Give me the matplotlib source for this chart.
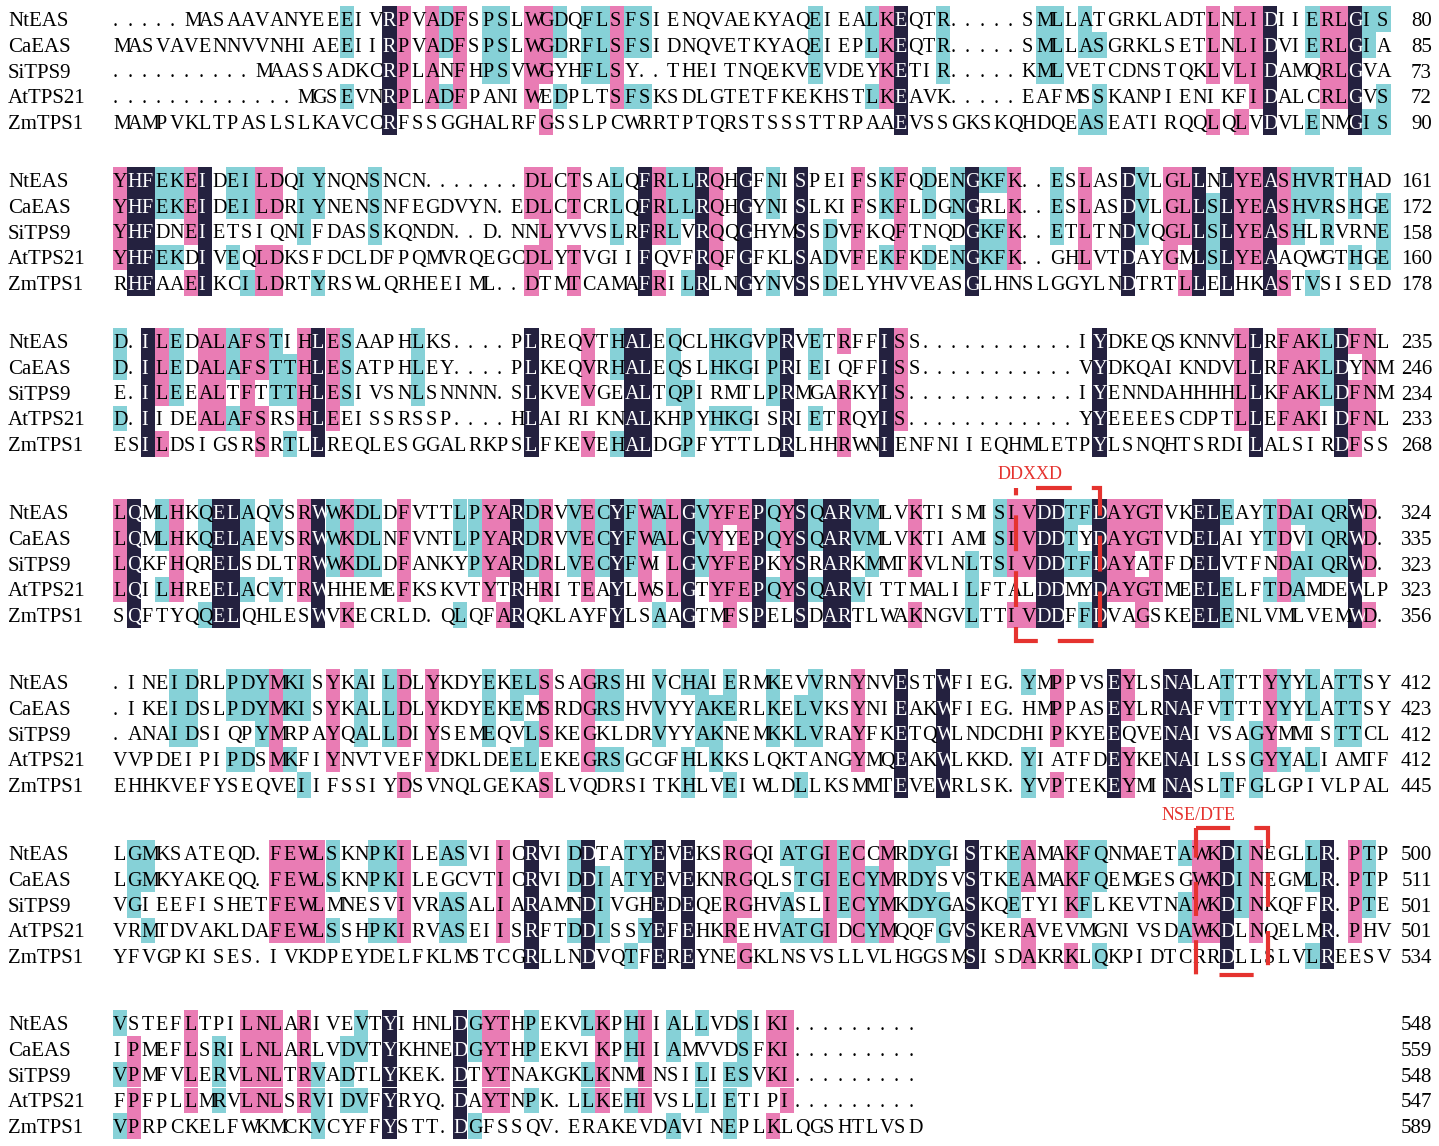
import matplotlib
matplotlib.use("Agg")
import matplotlib.pyplot as plt
from matplotlib.patches import Rectangle
from collections import Counter

OUTFILE = "out.png"

NAMES = ["NtEAS", "CaEAS", "SiTPS9", "AtTPS21", "ZmTPS1"]

# alignment blocks, 90 columns each (last one 57), '.' = gap
NtEAS = [
    "." * 5 + "MASAAVANYEEEIVRPVADFSPSLWGDQFLSFSIENQVAEKYAQEIEALKEQTR" + "." * 5 + "SMLLATGRKLADTLNLIDIIERLGIS",
    "YHFEKEIDEILDQIYNQNSNCN" + "." * 7 + "DLCTSALQFRLLRQHGFNISPEIFSKFQDENGKFK..ESLASDVLGLLNLYEASHVRTHAD",
    "D.ILEDALAFSTIHLESAAPHLKS" + "." * 4 + "PLREQVTHALEQCLHKGVPRVETRFFISS" + "." * 11 + "IYDKEQSKNNVLLRFAKLDFNL",
    "LQMLHKQELAQVSRWWKDLDFVTTLPYARDRVVECYFWALGVYFEPQYSQARVMLVKTISMISIVDDTFDAYGTVKELEAYTDAIQRWD.",
    ".INEIDRLPDYMKISYKAILDLYKDYEKELSSAGRSHIVCHAIERMKEVVRNYNVESTWFIEG.YMPPVSEYLSNALATTTYYYLATTSY",
    "LGMKSATEQD.FEWLSKNPKILEASVIICRVIDDTATYEVEKSRGQIATGIECCMRDYGISTKEAMAKFQNMAETAWKDINEGLLR.PTP",
    "VSTEFLTPILNLARIVEVTYIHNLDGYTHPEKVLKPHIIALLVDSIKI" + "." * 9,
]
CaEAS = [
    "MASVAVENNVVNHIAEEIIRPVADFSPSLWGDRFLSFSIDNQVETKYAQEIEPLKEQTR" + "." * 5 + "SMLLASGRKLSETLNLIDVIERLGIA",
    "YHFEKEIDEILDRIYNENSNFEGDVYN.EDLCTCRLQFRLLRQHGYNISLKIFSKFLDGNGRLK..ESLASDVLGLLSLYEASHVRSHGE",
    "D.ILEDALAFSTTHLESATPHLEY" + "." * 4 + "PLKEQVRHALEQSLHKGIPRIEIQFFISS" + "." * 11 + "VYDKQAIKNDVLLRFAKLDYNM",
    "LQMLHKQELAEVSRWWKDLNFVNTLPYARDRVVECYFWALGVYYEPQYSQARVMLVKTIAMISIVDDTYDAYGTVDELAIYTDVIQRWD.",
    ".IKEIDSLPDYMKISYKALLDLYKDYEKEMSRDGRSHVVYYAKERLKELVKSYNIEAKWFIEG.HMPPASEYLRNAFVTTTYYYLATTSY",
    "LGMKYAKEQQ.FEWLSKNPKILEGCVTICRVIDDIATYEVEKNRGQLSTGIECYMRDYSVSTKEAMAKFQEMGESGWKDINEGMLR.PTP",
    "IPMEFLSRILNLARLVDVTYKHNEDGYTHPEKVIKPHIIAMVVDSFKI" + "." * 9,
]
SiTPS9 = [
    "." * 10 + "MAASSADKCRPLANFHPSVWGYHFLSY..THEITNQEKVEVDEYKETIR" + "." * 5 + "KMLVETCDNSTQKLVLIDAMQRLGVA",
    "YHFDNEIETSIQNIFDASSKQNDN..D.NNLYVVSLRFRLVRQQGHYMSSDVFKQFTNQDGKFK..ETLTNDVQGLLSLYEASHLRVRNE",
    "E.ILEEALTFTTTHLESIVSNLSNNNN.SLKVEVGEALTQPIRMTLPRMGARKYIS" + "." * 12 + "IYENNDAHHHHLLKFAKLDFNM",
    "LQKFHQRELSDLTRWWKDLDFANKYPYARDRLVECYFWILGVYFEPKYSRARKMMTKVLNLTSIVDDTFDAYATFDELVTFNDAIQRWD.",
    ".ANAIDSIQPYMRPAYQALLDIYSEMEQVLSKEGKLDRVYYAKNEMKKLVRAYFKETQWLNDCDHIPKYEEQVENAIVSAGYMMISTTCL",
    "VGIEEFISHETFEWLMNESVIVRASALIARAMNDIVGHEDEQERGHVASLIECYMKDYGASKQETYIKFLKEVTNAWKDINKQFFR.PTE",
    "VPMFVLERVLNLTRVADTLYKEK.DTYTNAKGKLKNMINSILIESVKI" + "." * 9,
]
AtTPS21 = [
    "." * 13 + "MGSEVNRPLADFPANIWEDPLTSFSKSDLGTETFKEKHSTLKEAVK" + "." * 5 + "EAFMSSKANPIENIKFIDALCRLGVS",
    "YHFEKDIVEQLDKSFDCLDFPQMVRQEGCDLYTVGIIFQVFRQFGFKLSADVFEKFKDENGKFK..GHLVTDAYGMLSLYEAAQWGTHGE",
    "D.IIDEALAFSRSHLEEISSRSSP" + "." * 4 + "HLAIRIKNALKHPYHKGISRIETRQYIS" + "." * 12 + "YYEEEESCDPTLLEFAKIDFNL",
    "LQILHREELACVTRWHHEMEFKSKVTYTRHRITEAYLWSLGTYFEPQYSQARVITTMALILFTALDDMYDAYGTMEELELFTDAMDEWLP",
    "VVPDEIPIPDSMKFIYNVTVEFYDKLDEELEKEGRSGCGFHLKKSLQKTANGYMQEAKWLKKD.YIATFDEYKENAILSSGYYALIAMTF",
    "VRMTDVAKLDAFEWLSSHPKIRVASEIISRFTDDISSYEFEHKREHVATGIDCYMQQFGVSKERAVEVMGNIVSDAWKDLNQELMR.PHV",
    "FPFPLLMRVLNLSRVIDVFYRYQ.DAYTNPK.LLKEHIVSLLIETIPI" + "." * 9,
]
ZmTPS1 = [
    "MAMPVKLTPASLSLKAVCCRFSSGGHALRFGSSLPCWRRTPTQRSTSSSTTRPAAEVSSGKSKQHDQEASEATIRQQLQLVDVLENMGIS",
    "RHFAAEIKCILDRTYRSWLQRHEEIML..DTMTCAMAFRILRLNGYNVSSDELYHVVEASGLHNSLGGYLNDTRTLLELHKASTVSISED",
    "ESILDSIGSRSRTLLREQLESGGALRKPSLFKEVEHALDGPFYTTLDRLHHRWNIENFNIIEQHMLETPYLSNQHTSRDILALSIRDFSS",
    "SQFTYQQELQHLESWVKECRLD.QLQFARQKLAYFYLSAAGTMFSPELSDARTLWAKNGVLTTIVDDFFDVAGSKEELENLVMLVEMWD.",
    "EHHKVEFYSEQVEIIFSSIYDSVNQLGEKASLVQDRSITKHLVEIWLDLLKSMMTEVEWRLSK.YVPTEKEYMINASLTFGLGPIVLPAL",
    "YFVGPKISES.IVKDPEYDELFKLMSTCGRLLNDVQTFEREYNEGKLNSVSLLVLHGGSMSISDAKRKLQKPIDTCRRDLLSLVLREESV",
    "VPRPCKELFWKMCKVCYFFYSTT.DGFSSQV.ERAKEVDAVINEPLKLQGSHTLVSD",
]
SEQS = [NtEAS, CaEAS, SiTPS9, AtTPS21, ZmTPS1]

# residue number at the end of each block line
END_NUM = [
    [80, 161, 235, 324, 412, 500, 548],
    [85, 172, 246, 335, 423, 511, 559],
    [73, 158, 234, 323, 412, 501, 548],
    [72, 160, 233, 323, 412, 501, 547],
    [90, 178, 268, 356, 445, 534, 589],
]

MOTIFS = ["DDXXD", "NSE/DTE"]

# layout (pixels)
W_PX, H_PX = 1439, 1146
BLOCK_Y = [19, 180, 341, 512, 682, 853, 1023]
ROW_DY = 25.8
X0 = 112.5
CELL_W = 14.2
CELL_H = 25.8

C_DARK = "#24213f"
C_PINK = "#e97cb4"
C_CYAN = "#86d1d7"
C_RED = "#e5332f"

FONT = "Liberation Serif"
FS_RES = 14.5
FS_LAB = 15


def column_colors(rows):
    """per-residue colour from identity in the column: 5 -> dark, 4 -> pink, 3 -> cyan"""
    n = max(len(r) for r in rows)
    rows = [r.ljust(n, ".") for r in rows]
    out = [[None] * n for _ in rows]
    for j in range(n):
        col = [r[j] for r in rows if r[j] != "."]
        if not col:
            continue
        aa, cnt = Counter(col).most_common(1)[0]
        if cnt >= 5:
            c = C_DARK
        elif cnt == 4:
            c = C_PINK
        elif cnt == 3:
            c = C_CYAN
        else:
            continue
        for i, r in enumerate(rows):
            if r[j] == aa:
                out[i][j] = c
    return out


fig = plt.figure(figsize=(W_PX / 100, H_PX / 100), dpi=100)
ax = fig.add_axes([0, 0, 1, 1])
ax.set_xlim(0, W_PX)
ax.set_ylim(H_PX, 0)
ax.axis("off")

for b, yb in enumerate(BLOCK_Y):
    rows = [s[b] for s in SEQS]
    cols = column_colors(rows)
    for i, r in enumerate(rows):
        y = yb + i * ROW_DY
        ax.text(8, y + 7, NAMES[i], fontsize=FS_LAB, family=FONT, ha="left", va="baseline")
        ax.text(1432, y + 7, str(END_NUM[i][b]), fontsize=FS_LAB, family=FONT,
                ha="right", va="baseline")
        for j, ch in enumerate(r):
            x = X0 + j * CELL_W
            c = cols[i][j]
            if c is not None:
                ax.add_patch(Rectangle((x, y - CELL_H / 2), CELL_W, CELL_H,
                                       facecolor=c, edgecolor="none", zorder=1))
            tc = "white" if c == C_DARK else "black"
            ax.text(x + 0.6, y + 6.8, ch, fontsize=FS_RES, family=FONT, color=tc,
                    ha="left", va="baseline", zorder=3)

# motif boxes
ax.text(1030, 479, MOTIFS[0], fontsize=13, family=FONT, color=C_RED, ha="center", va="baseline")
ax.add_patch(Rectangle((1016, 488), 84, 153, fill=False, edgecolor=C_RED, lw=3,
                       linestyle=(8.6, (8.6, 4.8)), zorder=4))
ax.text(1199, 820, MOTIFS[1], fontsize=13, family=FONT, color=C_RED, ha="center", va="baseline")
ax.add_patch(Rectangle((1196, 828), 72, 147, fill=False, edgecolor=C_RED, lw=3,
                       linestyle=(0, (8.2, 5.8)), zorder=4))

fig.savefig(OUTFILE, dpi=100, facecolor="white")
